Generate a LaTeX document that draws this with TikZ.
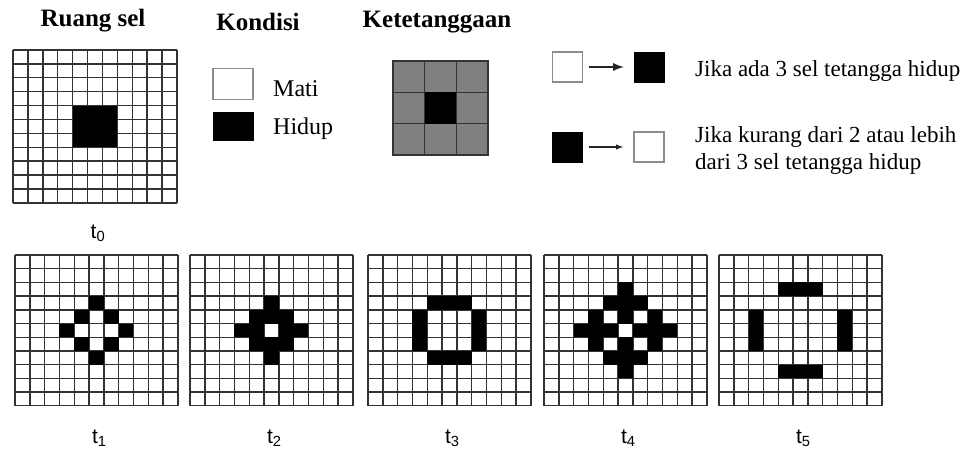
\documentclass[tikz,border=0pt]{standalone}
\usepackage{fontspec}
\setmainfont{Liberation Serif}
\setsansfont{Liberation Sans}

\begin{document}
\begin{tikzpicture}[x=1pt, y=-1pt]
	\tikzstyle{gridline} = [draw=black!80, line width=1.4pt]
	\tikzstyle{alive}    = [fill=black]
	\tikzstyle{header}   = [anchor=base, inner sep=0pt, font=\bfseries\fontsize{25}{29}\selectfont]
	\tikzstyle{caption}  = [anchor=base west, inner sep=0pt, font=\fontsize{24}{28}\selectfont]
	\tikzstyle{ruletext} = [anchor=base west, inner sep=0pt, align=left, font=\fontsize{23}{28}\selectfont]
	\tikzstyle{steplabel}= [anchor=base, inner sep=0pt, font=\sffamily\fontsize{21}{25}\selectfont]
	\tikzstyle{deadcell} = [rectangle, draw=black!45, line width=1.8pt, fill=white, inner sep=0pt]
	\tikzstyle{livecell} = [rectangle, draw=black, fill=black, inner sep=0pt]
	\tikzstyle{hood}     = [fill=black!50, draw=black!80, line width=1.3pt]

	\useasboundingbox (0,0) rectangle (971,457);

	% headers
	\node[header] (ruang)   at (93,27)  {Ruang sel};
	\node[header] (kondisi) at (258,31) {Kondisi};
	\node[header] (tetangga) at (437,28) {Ketetanggaan};

	% generations
	\foreach \name/\gx/\gy/\cw/\ch/\ly/\cells in {
		0/13/50/14.9/13.9/238/{4/4,5/4,6/4,4/5,5/5,6/5,4/6,5/6,6/6},
		1/15/255/14.8/13.7/443/{5/3,4/4,6/4,3/5,7/5,4/6,6/6,5/7},
		2/190/255/14.8/13.7/443/{5/3,4/4,5/4,6/4,3/5,4/5,6/5,7/5,4/6,5/6,6/6,5/7},
		3/368/255/14.8/13.7/443/{4/3,5/3,6/3,3/4,3/5,3/6,7/4,7/5,7/6,4/7,5/7,6/7},
		4/544/255/14.8/13.7/443/{5/2,4/3,5/3,6/3,3/4,5/4,7/4,2/5,3/5,4/5,6/5,7/5,8/5,3/6,5/6,7/6,4/7,5/7,6/7,5/8},
		5/719/255/14.8/13.7/443/{4/2,5/2,6/2,2/4,2/5,2/6,8/4,8/5,8/6,4/8,5/8,6/8}} {
		\foreach \i in {0,...,11} {
			\draw[gridline] (\gx+\i*\cw, \gy) -- ++(0, 11*\ch);
			\draw[gridline] (\gx, \gy+\i*\ch) -- ++(11*\cw, 0);
		}
		\foreach \c/\r in \cells
			\fill[alive] (\gx+\c*\cw, \gy+\r*\ch) rectangle ++(\cw, \ch);
		\node[steplabel] (t\name) at (\gx+5.5*\cw+3, \ly) {t\textsubscript{\name}};
	}

	% kondisi
	\node[deadcell, minimum width=40pt, minimum height=31pt] (mati) at (233,84) {};
	\node[livecell, minimum width=40pt, minimum height=28pt] (hidup) at (233,126) {};
	\node[caption] (matiText)  at (273,97)  {Mati};
	\node[caption] (hidupText) at (273,135) {Hidup};

	% ketetanggaan
	\fill[hood] (393,61) rectangle (488,155);
	\foreach \i in {1,2} {
		\draw[hood] (393+\i*31.67, 61) -- ++(0, 94);
		\draw[hood] (393, 61+\i*31.33) -- ++(95, 0);
	}
	\fill[black] (424.67,92.33) rectangle (456.33,123.67);
	\draw[hood, fill=none] (393,61) rectangle (488,155);

	% aturan
	\node[deadcell, minimum size=30pt] (lahirA) at (567.5,67) {};
	\node[livecell, minimum size=30pt] (lahirB) at (649,67) {};
	\node[livecell, minimum size=30pt] (matiA)  at (567.5,147) {};
	\node[deadcell, minimum size=30pt] (matiB)  at (649,147) {};
	\draw[-latex, line width=2.6pt, black!85, shorten <=6pt, shorten >=10pt] (lahirA) -- (lahirB);
	\draw[-latex, line width=1.4pt, black!85, shorten <=6pt, shorten >=10pt] (matiA) -- (matiB);
	\node[ruletext] (lahirText) at (695,77) {Jika ada 3 sel tetangga hidup};
	\node[ruletext] (matiText1) at (695,143) {Jika kurang dari 2 atau lebih};
	\node[ruletext] (matiText2) at (695,170) {dari 3 sel tetangga hidup};
\end{tikzpicture}
\end{document}
